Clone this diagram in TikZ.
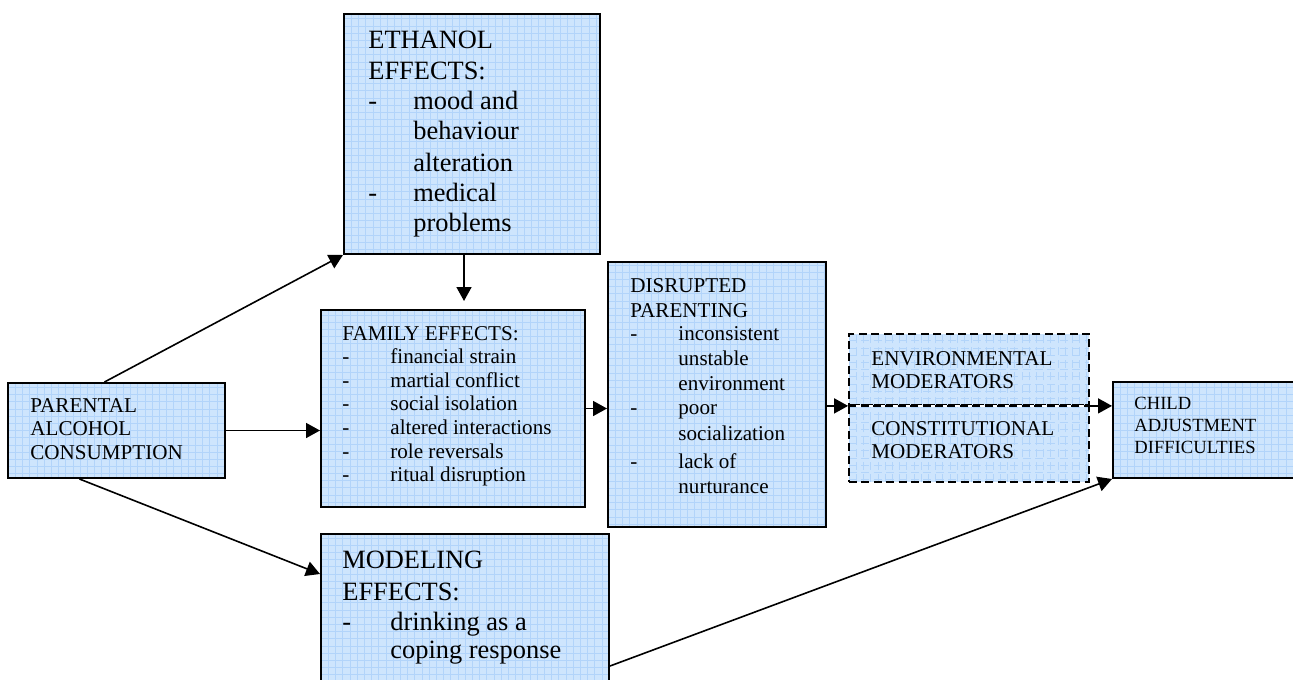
\documentclass[tikz,border=0pt]{standalone}
\usepackage{fontspec}
\setmainfont{Liberation Serif}
\usetikzlibrary{fit,arrows.meta}

\definecolor{boxfill}{RGB}{206,229,253}
\definecolor{gridcol}{RGB}{178,212,250}

\newcommand\bigtxt{\fontsize{13.2pt}{15.5pt}\selectfont}
\newcommand\midtxt{\fontsize{10.55pt}{12pt}\selectfont}
\newcommand\smalltxt{\fontsize{9.3pt}{11pt}\selectfont}

\tikzset{
  gridded/.style={fill=boxfill, inner sep=0pt,
    path picture={\draw[gridcol, line width=0.3pt]
      (path picture bounding box.south west) grid[step=3.6pt]
      (path picture bounding box.north east);}},
  box/.style={gridded, draw=black, line width=1pt},
  modbox/.style={gridded, draw=black, line width=0.9pt, dash pattern=on 4pt off 2.2pt},
  txt/.style={anchor=base west, inner sep=0pt, text=black},
  arr/.style={draw=black, line width=0.8pt, -{Triangle[length=7pt,width=7.5pt]}},
}

\begin{document}
\begin{tikzpicture}[x=0.5pt, y=-0.5pt]
  \useasboundingbox (0,0) rectangle (1293,679);
  \clip (0,0) rectangle (1293,679);
  \fill[white] (0,0) rectangle (1293,679);

  % boxes
  \node[box, fit={(344,14)(600,254)}] (eth) {};
  \node[box, fit={(8,383)(225,478)}] (par) {};
  \node[box, fit={(321,310)(585,507)}] (fam) {};
  \node[box, fit={(608,262)(826,527)}] (dis) {};
  \node[box, fit={(321,534)(609,700)}] (mod) {};
  \node[box, fit={(1113,382)(1310,478)}] (chi) {};
  \node[modbox, fit={(849,334)(1089,405)}] (env) {};
  \node[modbox, fit={(849,405)(1089,482)}] (con) {};
  \draw[white, line width=0.9pt] (env.south west) -- (env.south east);
  \draw[black, line width=0.9pt, dash pattern=on 4pt off 2.2pt] (env.south west) -- (env.south east);

  % connectors
  \draw[arr] ([xshift=-6pt]par.north) -- (eth.south west);
  \draw[arr, shorten >=4pt] ([xshift=-4pt]eth.south) -- ([xshift=-4pt]eth.south |- fam.north);
  \draw[arr] (par.east) -- (fam.west |- par.east);
  \draw[arr] ([xshift=-18.5pt]par.south) -- ([yshift=-20.5pt]mod.north west);
  \draw[arr] (fam.east) -- (dis.west |- fam.east);
  \draw[arr] (dis.east |- env.south) -- (env.south west);
  \draw[arr] (env.south east) -- (chi.west |- env.south);
  \draw[arr] ([yshift=-66.5pt]mod.north east) -- (chi.south west);

  % ethanol effects
  \foreach [count=\i] \x/\y/\t in {368/49/ETHANOL, 368/80/EFFECTS:, 368/110/-, 413/110/mood and,
      413/140/behaviour, 413/171/alteration, 368/201/-, 413/201/medical, 413/231/problems}
    \node[txt, font=\bigtxt] (eth-t\i) at (\x,\y) {\t};

  % parental alcohol consumption
  \foreach [count=\i] \y/\t in {412/PARENTAL, 435.5/ALCOHOL, 459/CONSUMPTION}
    \node[txt, font=\midtxt] (par-t\i) at (30,\y) {\t};

  % family effects
  \node[txt, font=\midtxt] (fam-h) at (342,340) {FAMILY EFFECTS:};
  \foreach [count=\i] \y/\t in {363.6/financial strain, 387.2/martial conflict, 410.8/social isolation,
      434.4/altered interactions, 458/role reversals, 481.6/ritual disruption} {
    \node[txt, font=\midtxt] (fam-d\i) at (342,\y) {-};
    \node[txt, font=\midtxt] (fam-t\i) at (390,\y) {\t};
  }

  % disrupted parenting
  \foreach [count=\i] \x/\y/\t in {630/292/DISRUPTED, 630/317/PARENTING, 630/340/-, 678/340/inconsistent,
      678/365/unstable, 678/390/environment, 630/414/-, 678/414/poor, 678/440/socialization,
      630/468/-, 678/468/lack of, 678/493/nurturance}
    \node[txt, font=\midtxt] (dis-t\i) at (\x,\y) {\t};

  % moderators
  \foreach [count=\i] \y/\t in {365/ENVIRONMENTAL, 388/MODERATORS, 435/CONSTITUTIONAL, 458/MODERATORS}
    \node[txt, font=\midtxt] (modr-t\i) at (871,\y) {\t};

  % child adjustment difficulties
  \foreach [count=\i] \y/\t in {409/CHILD, 431/ADJUSTMENT, 453/DIFFICULTIES}
    \node[txt, font=\smalltxt] (chi-t\i) at (1134,\y) {\t};

  % modeling effects
  \foreach [count=\i] \x/\y/\t in {342/568/MODELING, 342/600/EFFECTS:, 342/630/-, 390/630/drinking as a,
      390/658/coping response}
    \node[txt, font=\bigtxt] (mod-t\i) at (\x,\y) {\t};
\end{tikzpicture}
\end{document}
